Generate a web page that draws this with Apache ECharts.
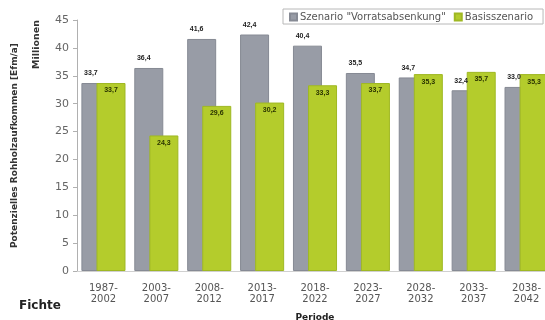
<!DOCTYPE html>
<html>
<head>
<meta charset="utf-8">
<script src="https://cdn.jsdelivr.net/npm/echarts@6/dist/echarts.min.js"></script>
<style>
  html, body { margin: 0; padding: 0; background: #fff; }
  #chart { width: 545px; height: 320px; }
</style>
</head>
<body>
<div id="chart"></div>
<script>
// Periods (two-line tick labels)
const periods = ['1987-\n2002', '2003-\n2007', '2008-\n2012', '2013-\n2017', '2018-\n2022',
                 '2023-\n2027', '2028-\n2032', '2033-\n2037', '2038-\n2042'];
// Potential timber volume, million Efm per year
const vorratsabsenkung = [33.7, 36.4, 41.6, 42.4, 40.4, 35.5, 34.7, 32.4, 33.0];
const basisszenario    = [33.7, 24.3, 29.6, 30.2, 33.3, 33.7, 35.3, 35.7, 35.3];
const yTicks = { min: 0, max: 45, interval: 5 };

const fmt = p => p.value.toFixed(1).replace('.', ',');
const font = 'DejaVu Sans, Verdana, sans-serif';
const labelFont = 'Liberation Sans, Arial, sans-serif';

const chart = echarts.init(document.getElementById('chart'), null, { renderer: 'canvas' });
chart.setOption({
  animation: false,
  textStyle: { fontFamily: font },
  grid: { left: 77, right: -8, top: 20, bottom: 49, outerBoundsMode: 'none', containLabel: false },
  legend: {
    left: 283, top: 9,
    padding: [3, 10, 2, 6],
    borderColor: '#b8b8b8', borderWidth: 1,
    itemWidth: 7, itemHeight: 7, itemGap: 8,
    icon: 'rect',
    textStyle: { color: '#555', fontSize: 10, fontFamily: font, padding: [0, 0, 0, -2] },
    data: ['Szenario "Vorratsabsenkung"', 'Basisszenario']
  },
  xAxis: {
    type: 'category',
    data: periods,
    name: 'Periode',
    nameLocation: 'middle',
    nameGap: 42,
    nameTextStyle: { color: '#222', fontSize: 9, fontWeight: 'bold', fontFamily: font },
    axisLine: { lineStyle: { color: '#d0d0d0' } },
    axisTick: { show: false },
    axisLabel: { color: '#555', fontSize: 10, lineHeight: 11, margin: 12, fontFamily: font }
  },
  yAxis: {
    type: 'value',
    min: yTicks.min, max: yTicks.max, interval: yTicks.interval,
    name: 'Potenzielles Rohholzaufkommen [Efm/a]',
    nameLocation: 'middle',
    nameGap: 58,
    nameTextStyle: { color: '#333', fontSize: 9, fontWeight: 'bold', fontFamily: font },
    axisLine: { show: true, lineStyle: { color: '#b0b0b0' } },
    axisTick: { show: true, length: 4, lineStyle: { color: '#b0b0b0' } },
    axisLabel: { color: '#666', fontSize: 11, margin: 8, fontFamily: font },
    splitLine: { show: false }
  },
  series: [
    {
      name: 'Szenario "Vorratsabsenkung"',
      type: 'bar',
      data: vorratsabsenkung,
      barWidth: 29,
      barGap: '-48%',
      itemStyle: { color: '#989ca6', borderColor: '#868a94', borderWidth: 1 },
      label: {
        show: true, position: 'top', distance: 6, offset: [-5, 0],
        color: '#222', fontSize: 7, fontWeight: 'bold', fontFamily: labelFont, formatter: fmt
      }
    },
    {
      name: 'Basisszenario',
      type: 'bar',
      data: basisszenario,
      barWidth: 29,
      itemStyle: { color: '#b4cc2c', borderColor: '#9fb823', borderWidth: 1 },
      label: {
        show: true, position: 'insideTop', distance: 4,
        color: '#2a3300', fontSize: 7, fontWeight: 'bold', fontFamily: labelFont, formatter: fmt
      }
    }
  ],
  graphic: [
    {
      type: 'text', left: 32, top: 20, rotation: Math.PI / 2,
      style: { text: 'Millionen', fill: '#333', font: 'bold 9.5px ' + font }
    },
    {
      type: 'text', left: 19, top: 300,
      style: { text: 'Fichte', fill: '#222', font: 'bold 12px ' + font }
    }
  ]
});
</script>
</body>
</html>
